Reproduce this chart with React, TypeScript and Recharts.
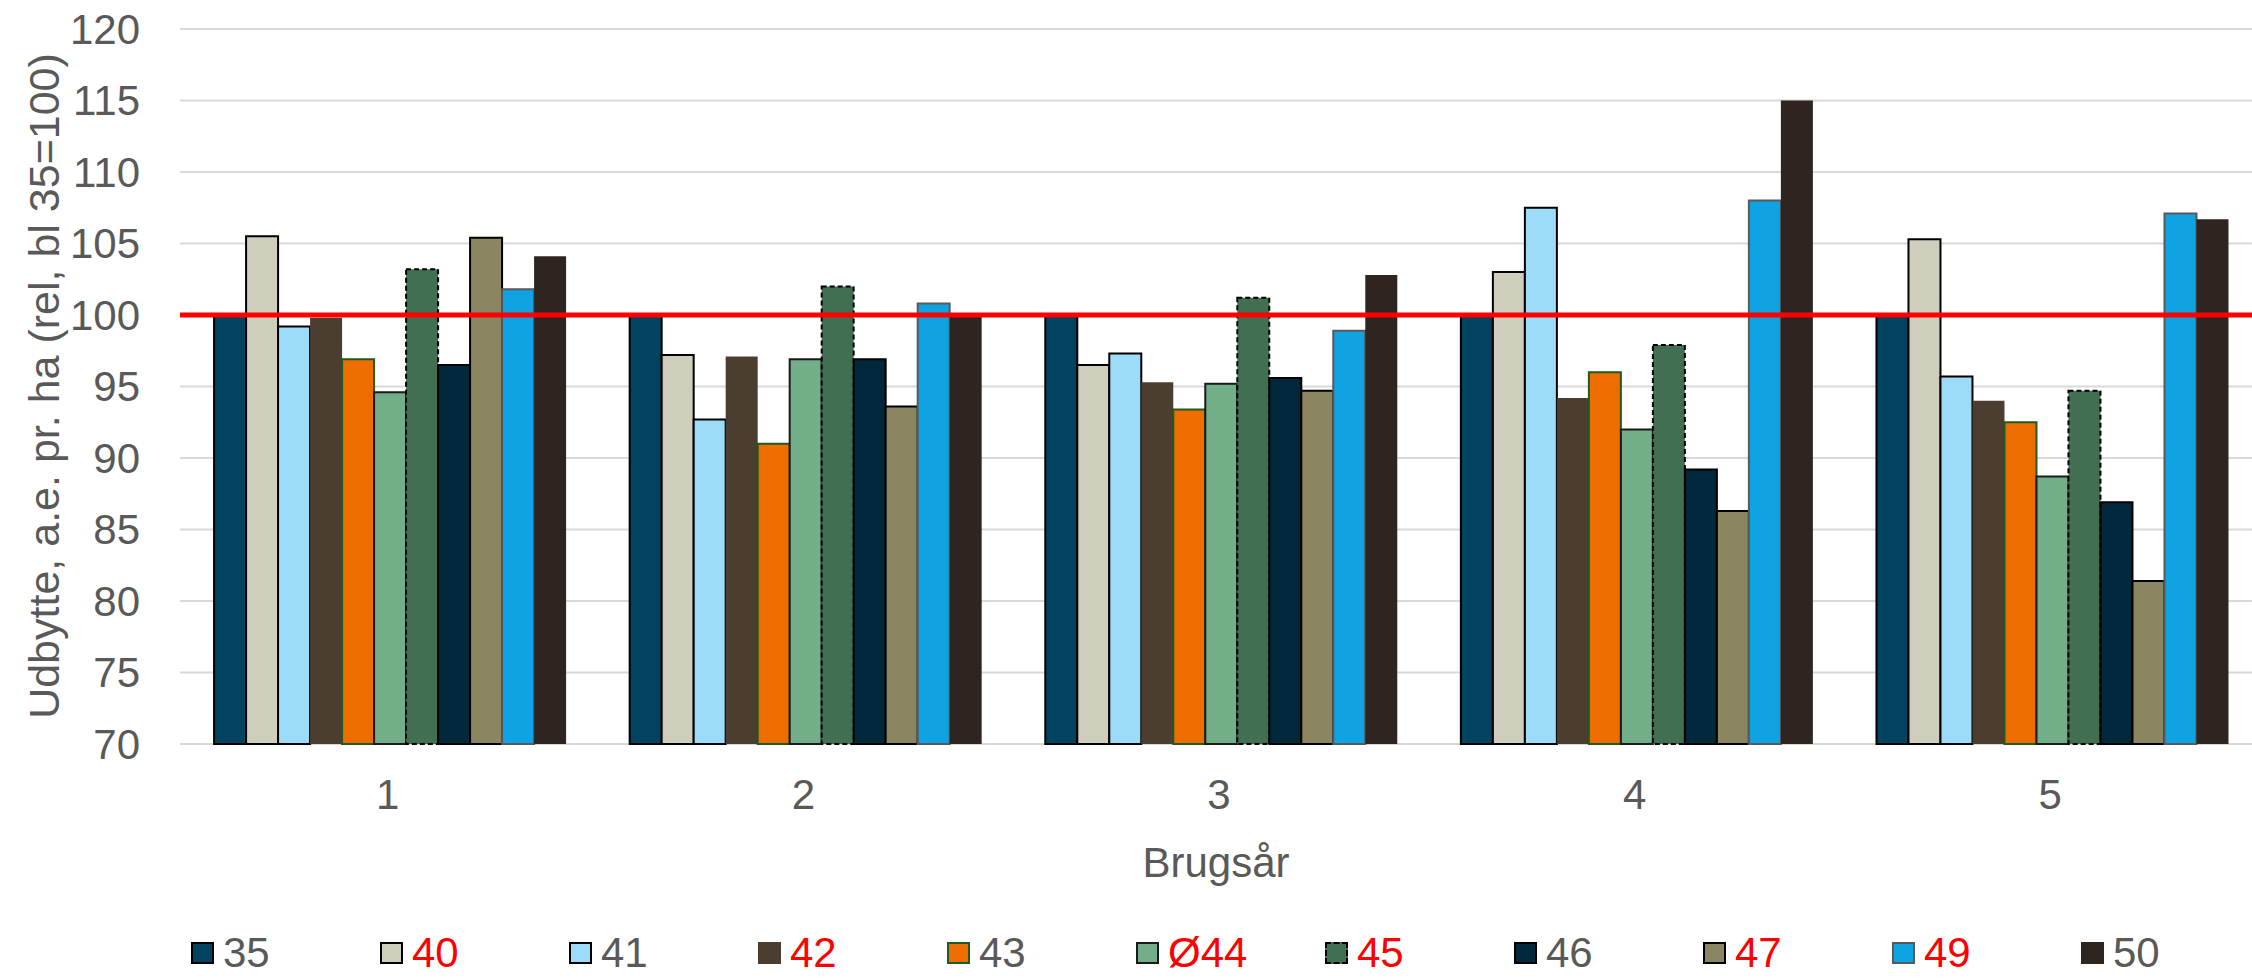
import { Bar, BarChart, CartesianGrid, Legend, ReferenceLine, XAxis, YAxis } from "recharts";

const FONT = "'Liberation Sans', Arial, sans-serif";
const GREY = "#595959";

const years = ["1", "2", "3", "4", "5"];
const yTicks = [70, 75, 80, 85, 90, 95, 100, 105, 110, 115, 120];

const s35 = [100, 100, 100, 100, 100];
const s40 = [105.5, 97.2, 96.5, 103.0, 105.3];
const s41 = [99.2, 92.7, 97.3, 107.5, 95.7];
const s42 = [99.8, 97.1, 95.3, 94.2, 94.0];
const s43 = [96.9, 91.0, 93.4, 96.0, 92.5];
const s44 = [94.6, 96.9, 95.2, 92.0, 88.7];
const s45 = [103.2, 102.0, 101.2, 97.9, 94.7];
const s46 = [96.5, 96.9, 95.6, 89.2, 86.9];
const s47 = [105.4, 93.6, 94.7, 86.3, 81.4];
const s49 = [101.8, 100.8, 98.9, 108.0, 107.1];
const s50 = [104.1, 100.0, 102.8, 115.0, 106.7];

// styling per series (name, fill, outline, legend text colour)
const series = [
  { key: "s35", name: "35", values: s35, fill: "#014360", stroke: "#000", text: GREY },
  { key: "s40", name: "40", values: s40, fill: "#CFCDBB", stroke: "#000", text: "#FF0000" },
  { key: "s41", name: "41", values: s41, fill: "#9DDCF9", stroke: "#000", text: GREY },
  { key: "s42", name: "42", values: s42, fill: "#4B3D2F", stroke: "none", text: "#FF0000" },
  { key: "s43", name: "43", values: s43, fill: "#EE6D00", stroke: "#1E5B1E", text: GREY },
  { key: "s44", name: "Ø44", values: s44, fill: "#72AE88", stroke: "#1a1a1a", text: "#FF0000" },
  { key: "s45", name: "45", values: s45, fill: "#426F52", stroke: "#000", dash: "5 3", text: "#FF0000" },
  { key: "s46", name: "46", values: s46, fill: "#01283A", stroke: "#000", text: GREY },
  { key: "s47", name: "47", values: s47, fill: "#8B8561", stroke: "#000", text: "#FF0000" },
  { key: "s49", name: "49", values: s49, fill: "#10A3E4", stroke: "#595959", text: "#FF0000" },
  { key: "s50", name: "50", values: s50, fill: "#2E2520", stroke: "none", text: GREY },
];

const data = years.map((year, i) => {
  const row: Record<string, any> = { year };
  series.forEach((s) => (row[s.key] = s.values[i]));
  return row;
});

function LegendBox() {
  return (
    <div style={{ display: "flex", height: 46, alignItems: "flex-start", paddingLeft: 191, fontFamily: FONT, fontSize: 42 }}>
      {series.map((s) => (
        <div key={s.key} style={{ width: 189, height: 42, display: "flex", alignItems: "center", flexShrink: 0 }}>
          <span
            style={{
              display: "inline-block", width: 23, height: 22, background: s.fill, boxSizing: "border-box",
              border: s.stroke === "none" ? "none" : `2px ${s.dash ? "dashed" : "solid"} ${s.stroke}`,
            }}
          />
          <span style={{ color: s.text, marginLeft: 9, lineHeight: "42px" }}>{s.name}</span>
        </div>
      ))}
    </div>
  );
}

export default function App() {
  return (
    <div style={{ position: "absolute", left: 0, top: 0, background: "#fff" }}>
      <BarChart width={2252} height={978} data={data} margin={{ top: 29, right: -6, left: 0, bottom: 0 }}
        barCategoryGap="8.2%" barGap={0}>
        <CartesianGrid vertical={false} stroke="#D9D9D9" strokeWidth={2} />
        <XAxis dataKey="year" height={188} axisLine={false} tickLine={false} tickSize={0} tickMargin={35}
          tick={{ fill: GREY, fontSize: 42, fontFamily: FONT }}
          label={{
            content: () => (
              <text x={1216} y={862} textAnchor="middle" dominantBaseline="central" fill={GREY} fontSize={42} fontFamily={FONT}>
                Brugsår
              </text>
            ),
          }} />
        <YAxis domain={[70, 120]} ticks={yTicks} width={180} axisLine={false} tickLine={false} tickSize={0} tickMargin={40}
          interval={0} tick={{ fill: GREY, fontSize: 42, fontFamily: FONT }}
          label={{
            content: () => (
              <text x={44} y={386} transform="rotate(-90 44 386)" textAnchor="middle" dominantBaseline="central"
                fill={GREY} fontSize={43} fontFamily={FONT}>
                Udbytte, a.e. pr. ha (rel, bl 35=100)
              </text>
            ),
          }} />
        {series.map((s) => (
          <Bar key={s.key} dataKey={s.key} name={s.name} fill={s.fill} stroke={s.stroke}
            strokeWidth={s.stroke === "none" ? 0 : 2} strokeDasharray={s.dash} isAnimationActive={false} />
        ))}
        <ReferenceLine y={100} stroke="#FF0000" strokeWidth={5} />
        <Legend verticalAlign="bottom" align="left" content={() => <LegendBox />} wrapperStyle={{ left: 0, width: 2252 }} />
      </BarChart>
    </div>
  );
}
